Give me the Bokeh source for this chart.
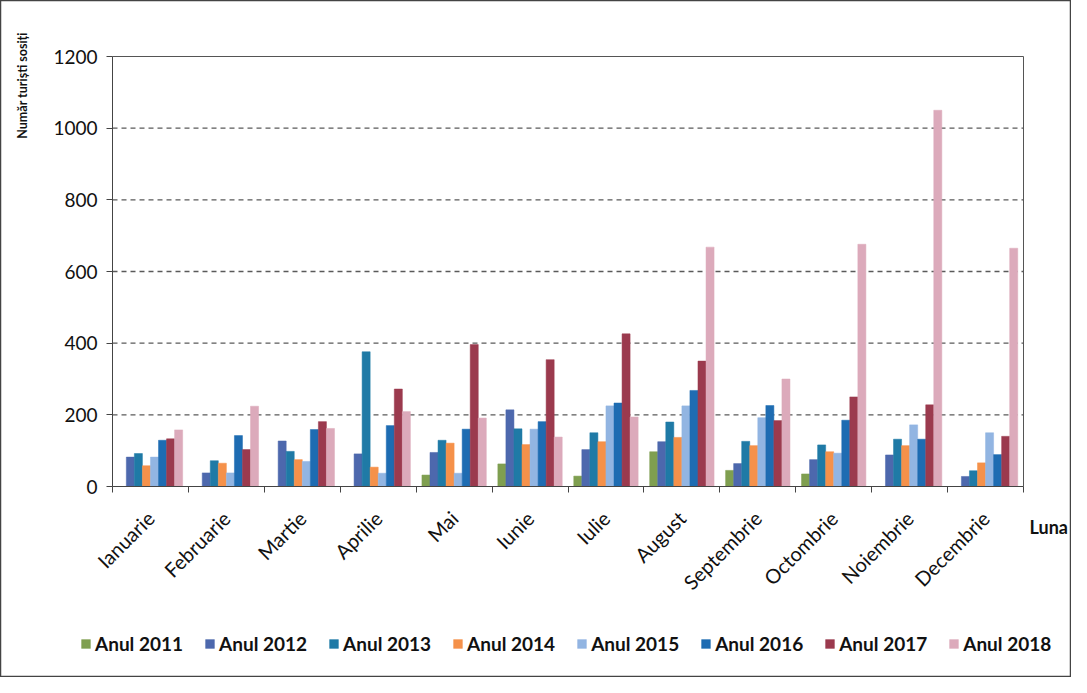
import numpy as np
from math import pi
from bokeh.plotting import figure
from bokeh.models import (ColumnDataSource, Range1d, FixedTicker, CustomJSTickFormatter,
                          Label, Legend, LinearAxis)
from bokeh.transform import dodge
from bokeh.embed import file_html
from bokeh.resources import INLINE

months = ["Ianuarie", "Februarie", "Martie", "Aprilie", "Mai", "Iunie", "Iulie",
          "August", "Septembrie", "Octombrie", "Noiembrie", "Decembrie"]
years = ["Anul 2011", "Anul 2012", "Anul 2013", "Anul 2014",
         "Anul 2015", "Anul 2016", "Anul 2017", "Anul 2018"]

y2011 = [0, 0, 0, 0, 32, 63, 29, 97, 45, 35, 0, 0]
y2012 = [82, 38, 127, 91, 95, 214, 103, 125, 64, 75, 88, 28]
y2013 = [92, 72, 98, 376, 129, 161, 150, 180, 126, 116, 132, 44]
y2014 = [58, 65, 75, 54, 121, 117, 125, 137, 114, 97, 114, 66]
y2015 = [82, 38, 70, 37, 37, 160, 225, 225, 192, 93, 172, 150]
y2016 = [129, 142, 159, 170, 160, 181, 233, 268, 226, 185, 132, 89]
y2017 = [133, 103, 181, 272, 396, 354, 426, 350, 184, 250, 228, 140]
y2018 = [158, 224, 162, 209, 191, 138, 194, 668, 300, 676, 1050, 665]

y_ticks = [0, 200, 400, 600, 800, 1000, 1200]

series = [y2011, y2012, y2013, y2014, y2015, y2016, y2017, y2018]
colors = ["#7f9f50", "#4d68ad", "#1f7aa6", "#f5914a", "#92b5e2", "#1e6cb2", "#9b3a4e", "#dcaabb"]

FONT = "Lato"
n = len(months)
ymax = y_ticks[-1]
pos = list(np.arange(n) + 0.5)

data = {"pos": pos, "month": months}
for i, s in enumerate(series):
    data[f"s{i}"] = s
src = ColumnDataSource(data)

# --- layout: the frame fills the whole figure; plot area placed via ranges ---
W, H = 1071, 677
area_left, area_right, area_top, area_bottom = 112, 1023, 56, 486   # pixels
xpp = n / (area_right - area_left)          # data units per pixel (x)
ypp = ymax / (area_bottom - area_top)       # data units per pixel (y)
x_range = Range1d(-area_left * xpp, n + (W - area_right) * xpp)
y_range = Range1d(-(H - area_bottom) * ypp, ymax + area_top * ypp)

p = figure(width=W, height=H, output_backend="svg", toolbar_location=None,
           x_range=x_range, y_range=y_range,
           x_axis_location=None, y_axis_location=None,
           min_border=0, min_border_left=0, min_border_right=0,
           min_border_top=0, min_border_bottom=0)
p.background_fill_color = "white"
p.border_fill_color = "white"
p.outline_line_color = "#444444"
p.outline_line_width = 1.5
p.grid.visible = False

# grid lines (dashed) and plot-area border (top / right)
grid_y = y_ticks[1:-1]
p.segment(x0=[0] * len(grid_y), x1=[n] * len(grid_y), y0=grid_y, y1=grid_y,
          line_color="#5a5a5a", line_dash="5 4", line_width=1.3)
p.segment(x0=[0, n], x1=[n, n], y0=[ymax, 0], y1=[ymax, ymax],
          line_color="#555555", line_width=1)

bw = 0.106
items = []
for i, (yr, c) in enumerate(zip(years, colors)):
    r = p.vbar(x=dodge("pos", (i - 3.5) * bw), top=f"s{i}", width=bw, source=src,
               fill_color=c, line_color=c, line_width=0.5)
    items.append((yr, [r]))

# x axis
xaxis = LinearAxis(fixed_location=0, bounds=(0, n))
xaxis.ticker = FixedTicker(ticks=pos, minor_ticks=list(range(n + 1)))
xaxis.formatter = CustomJSTickFormatter(args=dict(months=months),
                                        code="return months[Math.floor(tick)] || ''")
xaxis.major_label_orientation = pi / 4
xaxis.major_tick_out = 0
xaxis.major_tick_in = 0
xaxis.minor_tick_out = 6
xaxis.minor_tick_in = 0
xaxis.minor_tick_line_color = "#444444"
xaxis.axis_line_color = "#444444"
xaxis.major_label_standoff = 22
xaxis.major_label_text_font = FONT
xaxis.major_label_text_font_size = "20px"
xaxis.major_label_text_color = "#111111"
p.add_layout(xaxis, "below")

# y axis
yaxis = LinearAxis(fixed_location=0, bounds=(0, ymax))
yaxis.ticker = FixedTicker(ticks=y_ticks)
yaxis.major_tick_out = 6
yaxis.major_tick_in = 0
yaxis.minor_tick_line_color = None
yaxis.axis_line_color = "#444444"
yaxis.major_tick_line_color = "#444444"
yaxis.major_label_standoff = 9
yaxis.major_label_text_font = FONT
yaxis.major_label_text_font_size = "19px"
yaxis.major_label_text_color = "#111111"
p.add_layout(yaxis, "left")

# axis titles
p.add_layout(Label(x=-1.185, y=1119, text="Număr turiști sosiți", angle=pi / 2,
                   text_align="center", text_baseline="middle",
                   text_font=FONT, text_font_style="bold", text_font_size="12.5px",
                   text_color="#111111"))
p.add_layout(Label(x=12.08, y=-114, text="Luna",
                   text_align="left", text_baseline="middle",
                   text_font=FONT, text_font_style="bold", text_font_size="18px",
                   text_color="#111111"))

legend = Legend(items=items, orientation="horizontal", location=(80, 22),
                border_line_color=None, background_fill_alpha=0,
                label_text_font=FONT, label_text_font_style="bold",
                label_text_font_size="19px", label_text_color="#111111",
                glyph_width=11, glyph_height=11, label_standoff=4, spacing=21,
                margin=0, padding=0)
p.add_layout(legend, "center")

open("out.html", "w").write(file_html(p, INLINE))
